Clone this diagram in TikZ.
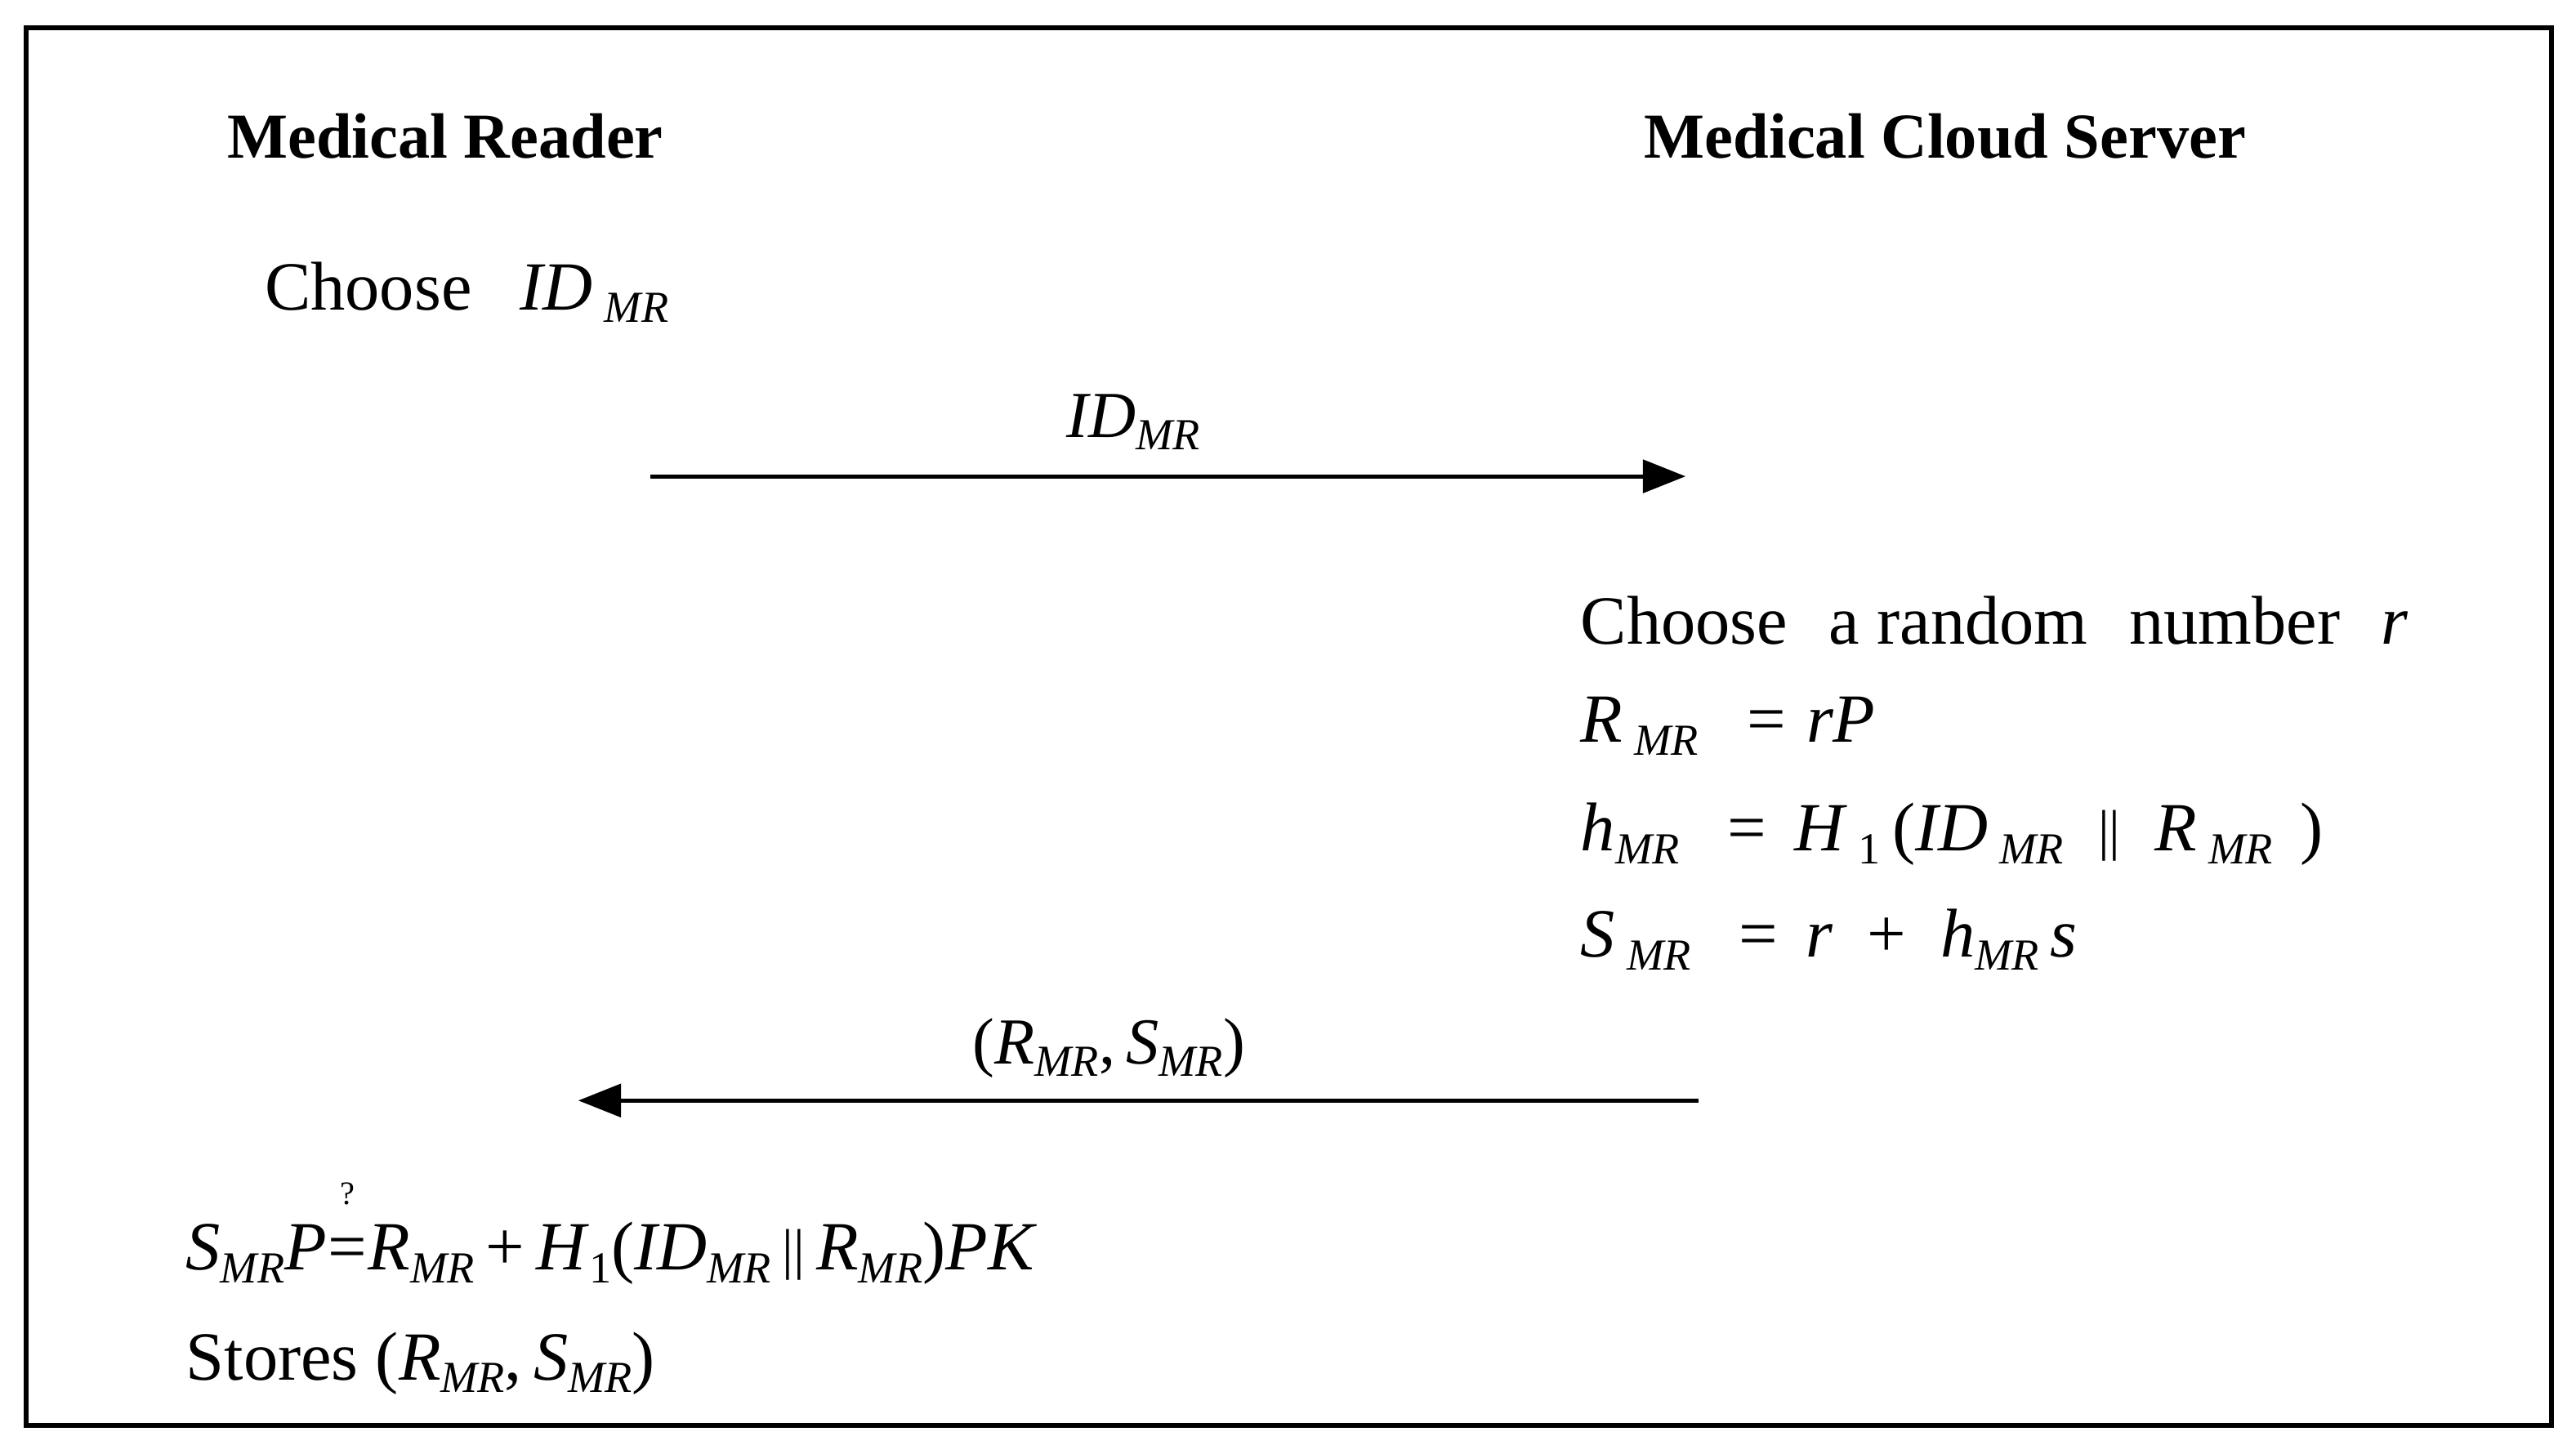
\documentclass[tikz,border=0pt]{standalone}
\usepackage{fontspec}
\setmainfont{Liberation Serif}
\usetikzlibrary{arrows.meta}
\newcommand{\sMR}{\raisebox{-0.4ex}{\fontsize{27}{27}\selectfont\itshape MR}}
\newcommand{\one}{\raisebox{-0.4ex}{\fontsize{27}{27}\selectfont 1}}
\newcommand{\iv}[1]{\textit{#1}}
\newcommand{\pbar}{\raisebox{0.05ex}{\fontsize{34}{34}\selectfont||}}
\newcommand{\qeq}{\makebox[0.6em]{=}\llap{\raisebox{0.95em}[0pt][0pt]{\makebox[0.6em]{\fontsize{20}{20}\selectfont ?}}}}
\begin{document}
\begin{tikzpicture}[x=1pt,y=-1pt,
  title/.style={font=\fontsize{39}{46}\selectfont\bfseries},
  txt/.style={font=\fontsize{42}{50}\selectfont,inner sep=0pt},
  lbl/.style={font=\fontsize{40}{48}\selectfont,inner sep=0pt},
  msg/.style={line width=2.5pt,-{Triangle[length=26pt,width=20pt]}}]
\useasboundingbox (0,0) rectangle (1568,885);
\draw[line width=3pt] (16,17) rectangle (1553,868);
\node[title] (mr) at (271,83) {Medical Reader};
\node[title] (cs) at (1184,83) {Medical Cloud Server};
\node[txt,anchor=west] (ch) at (161,178) {Choose\hspace{0.7em}\iv{ID}\,\sMR};
\coordinate (a1) at (396,290); \coordinate (a2) at (1026,290);
\draw[msg] (a1) -- (a2);
\node[lbl] (l1) at (690,257) {\iv{ID}\sMR};
\node[txt,anchor=west] (r1) at (962,378) {Choose\hspace{0.35em} a random\hspace{0.35em} number\hspace{0.35em} \iv{r}};
\node[txt,anchor=west] (r2) at (962,442) {\iv{R}\,\sMR\hspace{0.7em}=\hspace{0.3em}\iv{rP}};
\node[txt,anchor=west] (r3) at (962,508) {\iv{h}\sMR\hspace{0.7em}=\hspace{0.4em}\iv{H}\,\one\,(\iv{ID}\,\sMR\hspace{0.5em}\pbar\hspace{0.5em}\iv{R}\,\sMR\hspace{0.4em})};
\node[txt,anchor=west] (r4) at (962,572) {\iv{S}\,\sMR\hspace{0.7em}=\hspace{0.4em}\iv{r}\hspace{0.5em}+\hspace{0.5em}\iv{h}\sMR\,\iv{s}};
\coordinate (b1) at (1034,670); \coordinate (b2) at (352,670);
\draw[msg] (b1) -- (b2);
\node[lbl] (l2) at (675,638) {(\iv{R}\sMR,\,\iv{S}\sMR)};
\node[txt,anchor=west] (v1) at (113,763) {\iv{S}\sMR\iv{P}\qeq\iv{R}\sMR\,+\,\iv{H}\one(\iv{ID}\sMR\,\pbar\,\iv{R}\sMR)\iv{PK}};
\node[txt,anchor=west] (v2) at (113,830) {Stores (\iv{R}\sMR,\,\iv{S}\sMR)};
\end{tikzpicture}
\end{document}
